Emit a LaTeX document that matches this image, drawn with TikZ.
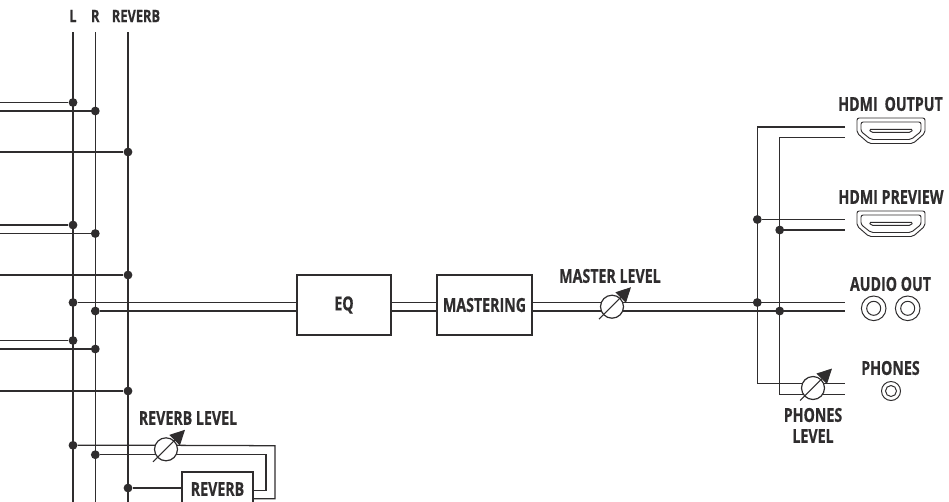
\documentclass[tikz,border=0pt]{standalone}
\usepackage{fontspec}
\usetikzlibrary{arrows.meta,backgrounds,calc}
\newfontfamily\labfont[FakeStretch=0.74,FakeBold=0.6]{Open Sans Bold}
\definecolor{ink}{HTML}{2F2D2E}
\tikzset{
  lab/.style={font=\labfont\fontsize{14.4}{18}\selectfont,text=ink,inner sep=0,align=center},
  toplab/.style={font=\labfont\fontsize{13}{16}\selectfont,text=ink,inner sep=0},
  wire/.style={draw=ink,line width=0.95pt,line join=miter},
  blockbox/.style={draw=ink,line width=0.95pt,fill=white,rectangle,inner sep=0,lab},
  potnode/.style={draw=ink,line width=0.9pt,fill=white,circle,minimum size=23*0.75pt,inner sep=0},
  potarrow/.style={draw=ink,line width=0.8pt,-{Triangle[length=11pt,width=11pt]}},
  dot/.style={circle,fill=ink,minimum size=6.6pt,inner sep=0},
  jackout/.style={draw=ink,line width=0.75pt,circle,inner sep=0},
  hdmi/.pic={
    \draw[draw=ink,line width=0.7pt,rounded corners=1.6pt] (0,0) -- (68,0) -- (68,15) -- (56,25.5) -- (12,25.5) -- (0,15) -- cycle;
    \draw[draw=ink,line width=0.7pt,rounded corners=1.6pt] (4,4) -- (64,4) -- (64,13.5) -- (54,21.5) -- (14,21.5) -- (4,13.5) -- cycle;
    \draw[draw=ink,line width=0.7pt,rounded corners=1.2pt] (12,11.3) -- (56,11.3) -- (54,14.3) -- (14,14.3) -- cycle;
  }
}
\begin{document}
\begin{tikzpicture}[x=0.75pt,y=-0.75pt]
\useasboundingbox (0,0) rectangle (949,501);
% bus ends
\coordinate (Lt) at (73,32);   \coordinate (Lb) at (73,505);
\coordinate (Rt) at (95.3,32); \coordinate (Rb) at (95.3,505);
\coordinate (Vt) at (128,32);  \coordinate (Vb) at (128,505);
% left free ends
\foreach \n/\y in {a/102.5,b/111,c/152,d/225,e/233.5,f/275,g/340.5,h/349,i/391}
  \coordinate (w\n) at (-2,\y);
% junctions
\node[dot] (ja) at (73,102.5) {};
\node[dot] (jb) at (95.3,111) {};
\node[dot] (jc) at (128,152) {};
\node[dot] (jd) at (73,225) {};
\node[dot] (je) at (95.3,233.5) {};
\node[dot] (jf) at (128,275) {};
\node[dot] (jp) at (73,302.5) {};
\node[dot] (jq) at (95.3,311) {};
\node[dot] (jg) at (73,340.5) {};
\node[dot] (jh) at (95.3,349) {};
\node[dot] (ji) at (128,391) {};
\node[dot] (jr) at (73,445.3) {};
\node[dot] (js) at (95.3,454.7) {};
\node[dot] (jt) at (128,488) {};
\node[dot] (ku) at (757.3,219.5) {};
\node[dot] (kv) at (779.7,230) {};
\node[dot] (kw) at (757.3,302.5) {};
\node[dot] (kx) at (779.7,311) {};
% blocks
\node[blockbox,minimum width=94*0.75pt,minimum height=60*0.75pt] (eq) at (344,305) {EQ};
\node[blockbox,minimum width=95*0.75pt,minimum height=60*0.75pt] (mast) at (484.5,305) {MASTERING};
\node[blockbox,minimum width=71*0.75pt,minimum height=34*0.75pt] (rev) at (217.5,489) {REVERB};
% pots
\node[potnode] (potm) at (612,306.7) {};
\node[potnode] (potp) at (813,388) {};
\node[potnode] (potr) at (166,449.3) {};
\draw[potarrow] ($(potm)+(-13,12.5)$) -- ($(potm)+(19,-19.5)$);
\draw[potarrow] ($(potp)+(-13,12.5)$) -- ($(potp)+(19,-19.5)$);
\draw[potarrow] ($(potr)+(-13,12.5)$) -- ($(potr)+(19,-19.5)$);
% right free ends
\coordinate (h1a) at (845,127);   \coordinate (h1b) at (845,137.7);
\coordinate (h2a) at (845,219.5); \coordinate (h2b) at (845,230);
\coordinate (aoa) at (845,302.5); \coordinate (aob) at (845,311);
\coordinate (pha) at (845,383.7); \coordinate (phb) at (845,394.3);
% wires
\begin{scope}[on background layer]
\draw[wire] (Lt) -- (Lb);
\draw[wire] (Rt) -- (Rb);
\draw[wire] (Vt) -- (Vb);
\foreach \n/\j in {a/ja,b/jb,c/jc,d/jd,e/je,f/jf,g/jg,h/jh,i/ji}
  \draw[wire] (w\n) -- (\j);
\draw[wire] (jp) -- (jp -| eq.west);
\draw[wire] (jq) -- (jq -| eq.west);
\draw[wire] (jp -| eq.east) -- (jp -| mast.west);
\draw[wire] (jq -| eq.east) -- (jq -| mast.west);
\draw[wire] (jp -| mast.east) -- (aoa);
\draw[wire] (jq -| mast.east) -- (aob);
% outputs
\draw[wire] (h1a) -- (h1a -| ku) -- (ku |- pha) -- (pha);
\draw[wire] (h1b) -- (h1b -| kv) -- (kv |- phb) -- (phb);
\draw[wire] (ku) -- (h2a);
\draw[wire] (kv) -- (h2b);
% reverb loop
\draw[wire] (jr) -- (jr -| potr) -- (275,445.7) -- (275,498.7) -- (rev.east |- 0,498.7);
\draw[wire] (js) -- (js -| potr) -- (266,454.7) -- (266,490.7) -- (rev.east |- 0,490.7);
\draw[wire] (jt) -- (rev.west |- jt);
\end{scope}
% labels
\node[toplab] (tl) at (73,16) {L};
\node[toplab] (tr) at (95.3,16) {R};
\node[toplab] (tv) at (136,16) {REVERB};
\node[lab] (tm) at (610,276) {MASTER LEVEL};
\node[lab] (tp) at (188,418) {REVERB LEVEL};
\node[lab] (t1) at (890.5,104) {HDMI\, OUTPUT};
\node[lab] (t2) at (891,197) {HDMI PREVIEW};
\node[lab] (t3) at (890.5,284) {AUDIO OUT};
\node[lab] (t4) at (890.5,368) {PHONES};
\node[lab] (t5) at (813,415) {PHONES};
\node[lab] (t6) at (813,436) {LEVEL};
% connectors on the panel
\pic at (857,118) {hdmi};
\pic at (857,211) {hdmi};
\node[jackout,minimum size=24.6*0.75pt] (a1) at (873.7,308.3) {};
\node[jackout,minimum size=14*0.75pt] (a1i) at (873.7,308.3) {};
\node[jackout,minimum size=24.6*0.75pt] (a2) at (907.7,308.3) {};
\node[jackout,minimum size=14*0.75pt] (a2i) at (907.7,308.3) {};
\node[jackout,minimum size=19*0.75pt] (p1) at (891,391) {};
\node[jackout,minimum size=11*0.75pt] (p1i) at (891,391) {};
\end{tikzpicture}
\end{document}
